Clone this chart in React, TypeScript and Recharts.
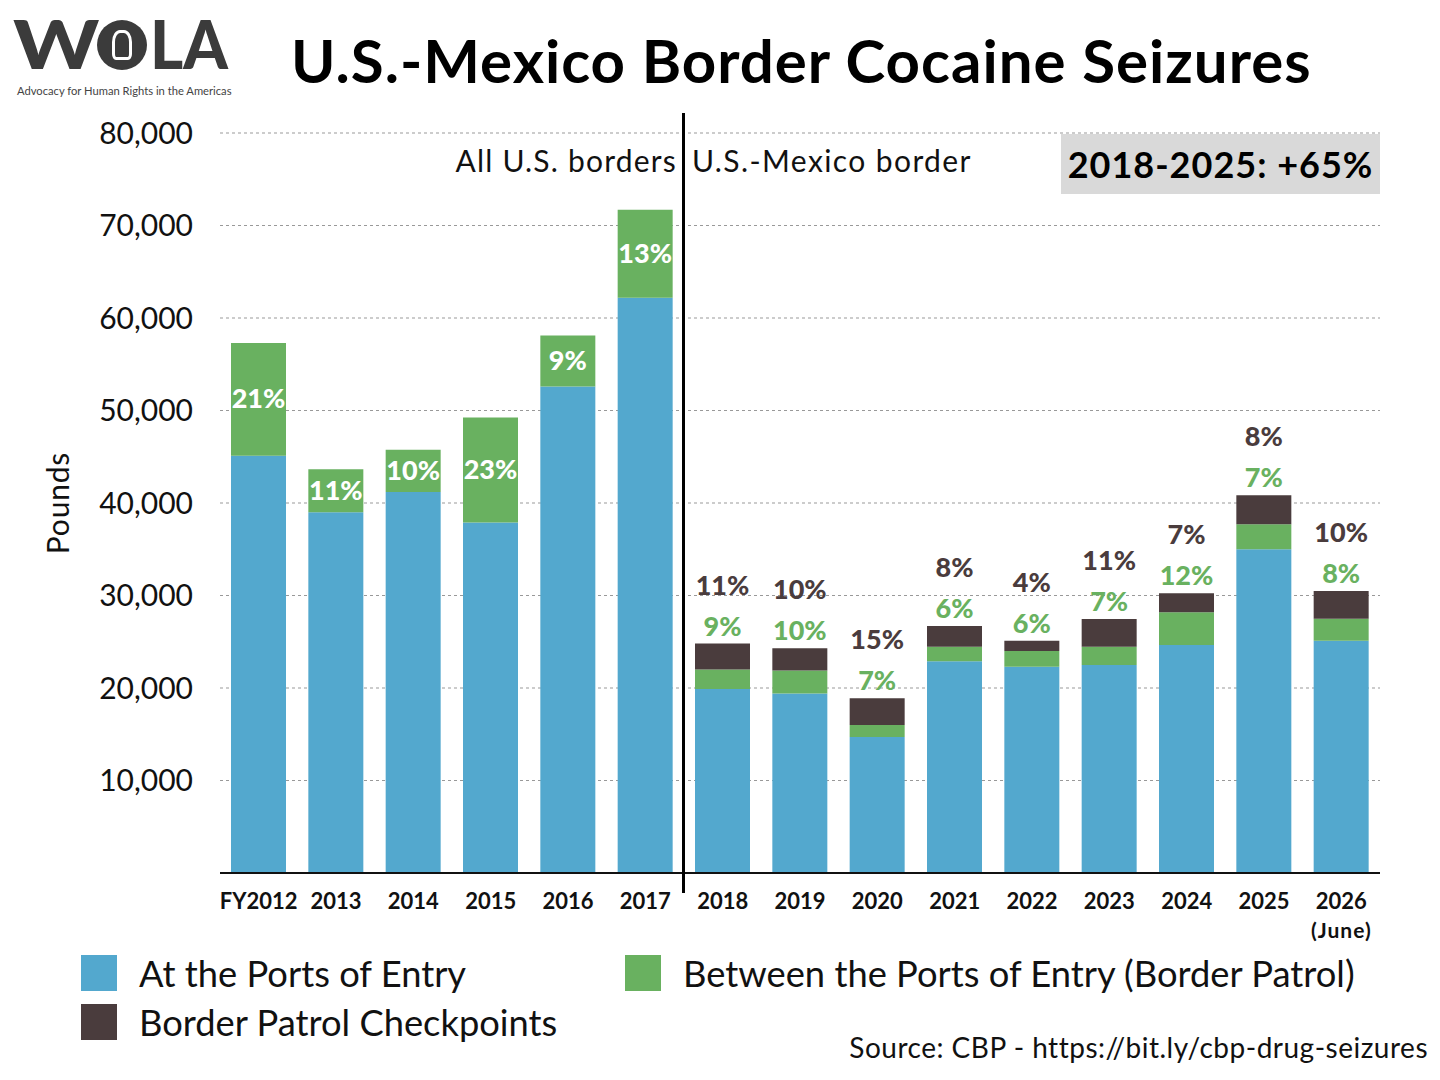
import React from 'react'
import { BarChart, Bar, XAxis, YAxis, CartesianGrid, LabelList } from 'recharts'

const years = ['FY2012', '2013', '2014', '2015', '2016', '2017', '2018', '2019', '2020', '2021', '2022', '2023', '2024', '2025', '2026']
const atPorts = [45100, 39000, 41200, 37900, 52600, 62200, 19900, 19400, 14700, 22900, 22300, 22500, 24650, 35000, 25100]
const betweenPorts = [12200, 4650, 4550, 11350, 5500, 9500, 2100, 2500, 1300, 1550, 1700, 1950, 3550, 2700, 2400]
const checkpoints = [0, 0, 0, 0, 0, 0, 2800, 2400, 2900, 2250, 1100, 3000, 2050, 3150, 3000]
const betweenLabels = ['21%', '11%', '10%', '23%', '9%', '13%', '9%', '10%', '7%', '6%', '6%', '7%', '12%', '7%', '8%']
const checkpointLabels = ['', '', '', '', '', '', '11%', '10%', '15%', '8%', '4%', '11%', '7%', '8%', '10%']
const yTicks = [0, 10000, 20000, 30000, 40000, 50000, 60000, 70000, 80000]

const BLUE = '#53a8ce'
const GREEN = '#69b160'
const DARK = '#4a3c3d'
const FONT = 'Lato, "Noto Sans", sans-serif'

// the first six years have no checkpoint breakdown: their share sits inside the green bar
const data = years.map((year, i) => ({
  year,
  ports: atPorts[i],
  between: betweenPorts[i],
  checkpoints: checkpoints[i],
  insideLabel: checkpoints[i] ? '' : betweenLabels[i],
  greenTop: checkpoints[i] ? betweenLabels[i] : '',
  darkTop: checkpointLabels[i],
}))

const XTick = (props: any) => {
  const { x, y, payload } = props
  return (
    <g>
      <text x={x} y={y + 36} textAnchor="middle" fontFamily={FONT} fontWeight={700} fontSize={22} fill="#111">
        {payload.value}
      </text>
      {payload.value === '2026' && (
        <text x={x} y={y + 65} textAnchor="middle" fontFamily={FONT} fontWeight={700} fontSize={21} letterSpacing={1} fill="#111">
          (June)
        </text>
      )}
    </g>
  )
}

const pctText = (fill: string, place: 'center' | 'top8' | 'top49') => (props: any) => {
  const { x, y, width, height, value } = props
  if (!value) return null
  const cx = x + width / 2
  const ty = place === 'center' ? y + height / 2 + 9 : place === 'top8' ? y - 8 : y - 49
  return (
    <text x={cx} y={ty} textAnchor="middle" fontFamily={FONT} fontWeight={900} fontSize={27} fill={fill}>
      {value}
    </text>
  )
}

const abs = (s: React.CSSProperties): React.CSSProperties => ({ position: 'absolute', ...s })

const LegendItem = ({ color, label, left, top }: { color: string; label: string; left: number; top: number }) => (
  <div style={abs({ left, top, display: 'flex', alignItems: 'center', height: 36 })}>
    <div style={{ width: 36, height: 36, background: color }} />
    <span style={{ marginLeft: 22, fontSize: 36.3, fontFamily: FONT, color: '#111', whiteSpace: 'nowrap' }}>{label}</span>
  </div>
)

export default function App() {
  return (
    <div style={{ position: 'relative', width: 1440, height: 1080, margin: -8, background: '#fff', fontFamily: FONT, overflow: 'hidden' }}>
      <BarChart
        width={1440}
        height={1080}
        data={data}
        margin={{ top: 133, right: 60, bottom: 137, left: 140 }}
        barSize={55}
      >
        <CartesianGrid vertical={false} stroke="#999" strokeDasharray="3 3" />
        <XAxis
          dataKey="year"
          tick={<XTick />}
          tickLine={false}
          tickSize={0}
          tickMargin={0}
          height={70}
          interval={0}
          axisLine={{ stroke: '#111', strokeWidth: 2 }}
        />
        <YAxis
          domain={[0, 80000]}
          ticks={yTicks}
          width={80}
          axisLine={false}
          tickLine={false}
          tickMargin={21}
          tickFormatter={(v: number) => (v === 0 ? '' : v.toLocaleString('en-US'))}
          tick={{ fontSize: 30, fontFamily: FONT, fill: '#111' }}
        />
        <Bar dataKey="ports" stackId="a" fill={BLUE} isAnimationActive={false} />
        <Bar dataKey="between" stackId="a" fill={GREEN} isAnimationActive={false}>
          <LabelList dataKey="insideLabel" content={pctText('#fff', 'center')} />
        </Bar>
        <Bar dataKey="checkpoints" stackId="a" fill={DARK} isAnimationActive={false}>
          <LabelList dataKey="greenTop" content={pctText(GREEN, 'top8')} />
          <LabelList dataKey="darkTop" content={pctText(DARK, 'top49')} />
        </Bar>
      </BarChart>

      {/* logo */}
      <div style={abs({ left: 13, top: 15, fontWeight: 900, fontSize: 67, color: '#3b3b3b', lineHeight: '56px', transform: 'scaleX(1.22)', transformOrigin: 'left top' })}>W</div>
      <div style={abs({ left: 97, top: 20, width: 50, height: 50, borderRadius: 25, background: '#3b3b3b' })}>
        <div style={abs({ left: 15, top: 10, width: 20, height: 30, borderRadius: '40% 40% 20% 20%', border: '3px solid #fff', boxSizing: 'border-box' })} />
      </div>
      <div style={abs({ left: 150, top: 15, fontWeight: 900, fontSize: 67, color: '#3b3b3b', lineHeight: '56px', transform: 'scaleX(0.95)', transformOrigin: 'left top' })}>LA</div>
      <div style={abs({ left: 17, top: 84, fontSize: 11.2, color: '#444', whiteSpace: 'nowrap', lineHeight: '13px' })}>
        Advocacy for Human Rights in the Americas
      </div>

      {/* title */}
      <div style={abs({ left: 291, top: 22, fontSize: 60, fontWeight: 700, letterSpacing: 1, color: '#000', whiteSpace: 'nowrap', lineHeight: '76px' })}>
        U.S.-Mexico Border Cocaine Seizures
      </div>

      {/* divider between all-border and southwest-border series */}
      <div style={abs({ left: 682, top: 113, width: 3, height: 780, background: '#000' })} />
      <div style={abs({ right: 1440 - 677, top: 142, fontSize: 30, letterSpacing: 1.2, color: '#111', whiteSpace: 'nowrap' })}>All U.S. borders</div>
      <div style={abs({ left: 692, top: 142, fontSize: 30, letterSpacing: 1.4, color: '#111', whiteSpace: 'nowrap' })}>U.S.-Mexico border</div>

      {/* change box */}
      <div style={abs({ left: 1061, top: 134, width: 319, height: 60, background: '#d9d9d9', display: 'flex', alignItems: 'center', justifyContent: 'center', fontSize: 36, fontWeight: 700, letterSpacing: 1, color: '#000' })}>
        2018-2025: +65%
      </div>

      {/* y label */}
      <div style={abs({ left: 57, top: 503, transform: 'translate(-50%, -50%) rotate(-90deg)', fontSize: 30, letterSpacing: 0.8, color: '#111', whiteSpace: 'nowrap' })}>
        Pounds
      </div>

      <LegendItem color={BLUE} label="At the Ports of Entry" left={81} top={955} />
      <LegendItem color={GREEN} label="Between the Ports of Entry (Border Patrol)" left={625} top={955} />
      <LegendItem color={DARK} label="Border Patrol Checkpoints" left={81} top={1004} />

      <div style={abs({ right: 12, top: 1030, fontSize: 28, letterSpacing: 0.5, color: '#111', whiteSpace: 'nowrap' })}>
        Source: CBP - https://bit.ly/cbp-drug-seizures
      </div>
    </div>
  )
}
